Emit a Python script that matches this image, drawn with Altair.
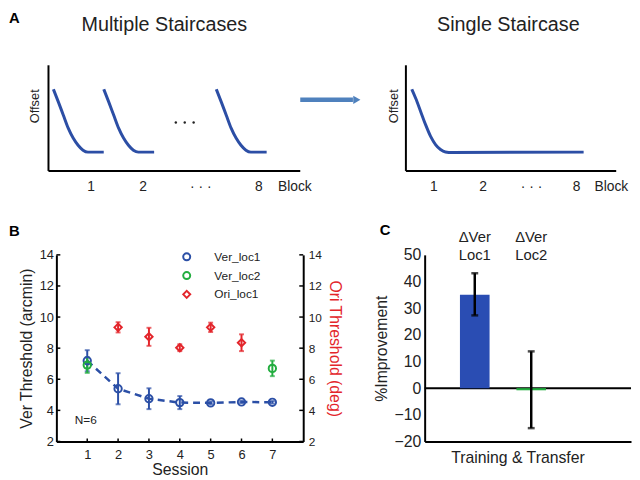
import altair as alt
import pandas as pd

FONT = "Liberation Sans"
CURVE_BLUE = "#2c4ea5"
ARROW_BLUE = "#4f81bd"
BLUE = "#2b4fa6"
BAR_BLUE = "#2a4db3"
GREEN = "#22ad3f"
RED = "#e3252b"

# ---------------- Panel A (schematic staircases) ----------------
multi_dx = [0, 0.101, 0.202, 0.304, 0.405, 0.506, 0.607, 0.709, 1.032]
multi_y = [0.773, 0.654, 0.530, 0.405, 0.311, 0.243, 0.196, 0.178, 0.178]
multi_starts = [-0.061, 0.972, 3.279]
dots_x = [2.449, 2.632, 2.814]
dots_y = [0.458, 0.458, 0.458]
single_x = [0.121, 0.202, 0.303, 0.404, 0.505, 0.606, 0.707, 0.808, 0.943, 3.634]
single_y = [0.773, 0.685, 0.561, 0.436, 0.327, 0.250, 0.203, 0.180, 0.175, 0.178]
a_tick_labels = ["1", "2", "· · ·", "8", "Block"]
a_left_tick_x = [0.71, 1.78, 2.96, 4.15, 4.89]
a_right_tick_x = [0.57, 1.58, 2.57, 3.49, 4.20]

# ---------------- Panel B ----------------
sessions = [1, 2, 3, 4, 5, 6, 7]
ver1_mean = [7.19, 5.39, 4.75, 4.50, 4.48, 4.54, 4.52]
ver1_err = [0.68, 1.00, 0.67, 0.42, 0.08, 0.07, 0.08]
ver2_sessions = [1, 7]
ver2_mean = [6.91, 6.70]
ver2_err = [0.50, 0.50]
ori_sessions = [2, 3, 4, 5, 6]
ori_mean = [9.34, 8.73, 8.03, 9.34, 8.35]
ori_err = [0.33, 0.58, 0.22, 0.30, 0.54]
b_yticks = [2, 4, 6, 8, 10, 12, 14]
series_names = ["Ver_loc1", "Ver_loc2", "Ori_loc1"]

# ---------------- Panel C ----------------
c_pos = [1, 2]
c_names = ["Loc1", "Loc2"]
c_mean = [35.0, -0.8]
c_lo = [27.3, -15.0]
c_hi = [43.1, 13.8]
c_yticks = [-20, -10, 0, 10, 20, 30, 40, 50]


def qx(f, sc):
    return alt.X(f, type="quantitative", scale=sc, axis=None)


def qy(f, sc):
    return alt.Y(f, type="quantitative", scale=sc, axis=None)


# ---------- Panel A ----------
AH = 107
yA = alt.Scale(domain=[0, 1], nice=False, zero=False)


def a_panel(curve_df, axis_x0, axis_x1, xs, tick_x, title, title_x, offset_x, extra=None):
    base = alt.Chart(curve_df)
    curve = base.mark_line(color=CURVE_BLUE, strokeWidth=3, interpolate="monotone").encode(
        x=qx("x", xs), y=qy("y", yA), detail="block:N")
    axes_df = pd.DataFrame({"x": [axis_x0, axis_x0], "x2": [axis_x0, axis_x1],
                            "y": [0, 0], "y2": [1, 0]})
    axes = alt.Chart(axes_df).mark_rule(color="black", strokeWidth=2).encode(
        x=qx("x", xs), x2="x2", y=qy("y", yA), y2="y2")
    ticks_df = pd.DataFrame({"x": tick_x, "y": [-0.15] * len(tick_x), "t": a_tick_labels})
    ticks = alt.Chart(ticks_df).mark_text(fontSize=14, baseline="middle", color="#222").encode(
        x=qx("x", xs), y=qy("y", yA), text="t:N")
    ttl = alt.Chart(pd.DataFrame({"x": [title_x], "y": [1.327], "t": [title]})).mark_text(
        fontSize=20, baseline="alphabetic", color="#222").encode(x=qx("x", xs), y=qy("y", yA), text="t:N")
    off = alt.Chart(pd.DataFrame({"x": [offset_x], "y": [0.612], "t": ["Offset"]})).mark_text(
        fontSize=13, angle=270, baseline="middle", color="#222").encode(x=qx("x", xs), y=qy("y", yA), text="t:N")
    layers = [axes, curve, ticks, ttl, off]
    if extra:
        layers += extra
    return layers


xAL = alt.Scale(domain=[0, 5], nice=False, zero=False)
multi_df = pd.DataFrame([{"x": s + dx, "y": y, "block": i}
                         for i, s in enumerate(multi_starts)
                         for dx, y in zip(multi_dx, multi_y)])
dots = alt.Chart(pd.DataFrame({"x": dots_x, "y": dots_y})).mark_point(
    filled=True, size=6, color="#222", opacity=1).encode(x=qx("x", xAL), y=qy("y", yA))
arrow = alt.Chart(pd.DataFrame({"x": [5.0, 6.08], "y": [0.673, 0.673]})).mark_line(
    color=ARROW_BLUE, strokeWidth=4.5).encode(x=qx("x", xAL), y=qy("y", yA))
arrow_head = alt.Chart(pd.DataFrame({"x": [6.16], "y": [0.673]})).mark_point(
    shape="triangle-right", filled=True, size=70, color=ARROW_BLUE, opacity=1).encode(
    x=qx("x", xAL), y=qy("y", yA))
letterA = alt.Chart(pd.DataFrame({"x": [-0.972], "y": [1.514], "t": ["A"]})).mark_text(
    fontSize=15, fontWeight="bold", align="left", baseline="top", color="black").encode(
    x=qx("x", xAL), y=qy("y", yA), text="t:N")

a_left = alt.layer(*a_panel(multi_df, -0.162, 5.0, xAL, a_left_tick_x, "Multiple Staircases",
                            2.213, -0.445, [dots, arrow, arrow_head, letterA])).properties(width=247, height=AH)

xAR = alt.Scale(domain=[0, 4.3], nice=False, zero=False)
single_df = pd.DataFrame({"x": single_x, "y": single_y, "block": [0] * len(single_x)})
a_right = alt.layer(*a_panel(single_df, 0.0, 4.3, xAR, a_right_tick_x, "Single Staircase",
                             2.094, -0.252)).properties(width=213, height=AH)

row1 = alt.hconcat(a_left, a_right, spacing=107, bounds="flush")

# ---------- Panel B ----------
BW, BH = 250, 189
xB = alt.Scale(domain=[0, 8], nice=False, zero=False)
yBL = alt.Scale(domain=[2, 14], nice=False, zero=False)
yBR = alt.Scale(domain=[2, 14], nice=False, zero=False)

axBx = alt.Axis(values=sessions, title="Session", labelFontSize=13, labelPadding=7,
                titleFontSize=16, titlePadding=0, ticks=False, tickSize=0, domainWidth=2,
                labelAngle=0, format="d", grid=False)
axBL = alt.Axis(values=b_yticks, title="Ver Threshold (arcmin)", labelFontSize=13, labelPadding=3,
                titleFontSize=16, titlePadding=5, ticks=False, tickSize=0, domainWidth=2, grid=False)
axBR = alt.Axis(orient="right", values=b_yticks, title="Ori Threshold (deg)", titleColor=RED,
                labelFontSize=12, labelPadding=5, titleFontSize=16, titlePadding=5,
                ticks=False, tickSize=0, domainWidth=2, grid=False)

leg = alt.Legend(orient="none", legendX=126, legendY=-4, title=None, labelFontSize=12,
                 symbolSize=50, symbolStrokeWidth=2, rowPadding=3, labelOffset=22, padding=0,
                 symbolFillColor="white", labelFontWeight="normal")
color_enc = alt.Color("series:N", scale=alt.Scale(domain=series_names, range=[BLUE, GREEN, RED]), legend=leg)
shape_enc = alt.Shape("series:N", scale=alt.Scale(domain=series_names, range=["circle", "circle", "diamond"]), legend=leg)

ver1_df = pd.DataFrame({"s": sessions, "m": ver1_mean,
                        "lo": [m - e for m, e in zip(ver1_mean, ver1_err)],
                        "hi": [m + e for m, e in zip(ver1_mean, ver1_err)],
                        "series": "Ver_loc1"})
ver2_df = pd.DataFrame({"s": ver2_sessions, "m": ver2_mean,
                        "lo": [m - e for m, e in zip(ver2_mean, ver2_err)],
                        "hi": [m + e for m, e in zip(ver2_mean, ver2_err)],
                        "series": "Ver_loc2"})
ori_df = pd.DataFrame({"s": ori_sessions, "m": ori_mean,
                       "lo": [m - e for m, e in zip(ori_mean, ori_err)],
                       "hi": [m + e for m, e in zip(ori_mean, ori_err)],
                       "series": "Ori_loc1"})
ver_pts = pd.concat([ver1_df, ver2_df], ignore_index=True)

XB = alt.X("s:Q", scale=xB, axis=axBx)

b_line = alt.Chart(ver1_df).mark_line(color=BLUE, strokeWidth=2.5, strokeDash=[7, 5]).encode(
    x=XB, y=alt.Y("m:Q", scale=yBL, axis=axBL))
b_err1 = alt.Chart(ver1_df).mark_errorbar(ticks=True, size=5, thickness=2, color=BLUE).encode(
    x=XB, y=alt.Y("lo:Q", scale=yBL, axis=axBL, title="Ver Threshold (arcmin)"), y2="hi:Q")
b_err2 = alt.Chart(ver2_df).mark_errorbar(ticks=True, size=5, thickness=2, color=GREEN).encode(
    x=XB, y=alt.Y("lo:Q", scale=yBL, axis=axBL, title="Ver Threshold (arcmin)"), y2="hi:Q")
b_pts = alt.Chart(ver_pts).mark_point(filled=False, size=55, strokeWidth=2, opacity=1).encode(
    x=XB, y=alt.Y("m:Q", scale=yBL, axis=axBL), color=color_enc, shape=shape_enc)
b_lticks = alt.Chart(pd.DataFrame({"v": b_yticks})).mark_rule(color="black", strokeWidth=1.5).encode(
    y=alt.Y("v:Q", scale=yBL, axis=axBL), x=alt.value(0), x2=alt.value(4))
b_xticks = alt.Chart(pd.DataFrame({"s": sessions})).mark_rule(color="black", strokeWidth=1.5).encode(
    x=XB, y=alt.value(BH - 3), y2=alt.value(BH))
b_n = alt.Chart(pd.DataFrame({"s": [0.95], "v": [3.4], "t": ["N=6"]})).mark_text(
    fontSize=12, baseline="middle", color="#222").encode(
    x=XB, y=alt.Y("v:Q", scale=yBL, axis=axBL), text="t:N")
letterB = alt.Chart(pd.DataFrame({"s": [-1.536], "v": [16.0], "t": ["B"]})).mark_text(
    fontSize=15, fontWeight="bold", align="left", baseline="top", color="black").encode(
    x=XB, y=alt.Y("v:Q", scale=yBL, axis=axBL), text="t:N")

left_group = alt.layer(b_lticks, b_xticks, b_line, b_err1, b_err2, b_pts, b_n, letterB)

b_err3 = alt.Chart(ori_df).mark_errorbar(ticks=True, size=5, thickness=2, color=RED).encode(
    x=XB, y=alt.Y("lo:Q", scale=yBR, axis=axBR, title="Ori Threshold (deg)"), y2="hi:Q")
b_pts3 = alt.Chart(ori_df).mark_point(filled=False, size=55, strokeWidth=2, opacity=1).encode(
    x=XB, y=alt.Y("m:Q", scale=yBR, axis=axBR), color=color_enc, shape=shape_enc)
b_rticks = alt.Chart(pd.DataFrame({"v": b_yticks})).mark_rule(color="black", strokeWidth=1.5).encode(
    y=alt.Y("v:Q", scale=yBR, axis=axBR), x=alt.value(BW - 4), x2=alt.value(BW))
right_group = alt.layer(b_rticks, b_err3, b_pts3)

panel_b = alt.layer(left_group, right_group).resolve_scale(y="independent").properties(width=BW, height=BH)

# ---------- Panel C ----------
CW, CH = 209, 189
xC = alt.Scale(domain=[0.2, 3.68], nice=False, zero=False)
yC = alt.Scale(domain=[-20, 50], nice=False, zero=False)
axCx = alt.Axis(labels=False, ticks=False, tickSize=0, title=None, domainWidth=2, grid=False)
axCy = alt.Axis(values=c_yticks, title="%Improvement", labelFontSize=16, labelPadding=4,
                titleFontSize=16, titlePadding=5, ticks=False, tickSize=0, domainWidth=2, grid=False)
XC = alt.X("x:Q", scale=xC, axis=axCx)

c_df = pd.DataFrame({"x": c_pos, "name": c_names, "m": c_mean, "lo": c_lo, "hi": c_hi, "zero": [0, 0]})
c_zero = alt.Chart(pd.DataFrame({"v": [0]})).mark_rule(color="black", strokeWidth=2).encode(
    y=alt.Y("v:Q", scale=yC, axis=axCy))
c_bar1 = alt.Chart(c_df.iloc[[0]]).mark_bar(size=30, color=BAR_BLUE).encode(
    x=XC, y=alt.Y("m:Q", scale=yC, axis=axCy), y2="zero:Q")
c_bar2 = alt.Chart(c_df.iloc[[1]]).mark_bar(size=30, color=GREEN).encode(
    x=XC, y=alt.Y("m:Q", scale=yC, axis=axCy), y2="zero:Q")
c_err = alt.Chart(c_df).mark_errorbar(ticks=True, size=7, thickness=2.5, color="black").encode(
    x=XC, y=alt.Y("lo:Q", scale=yC, axis=axCy, title="%Improvement"), y2="hi:Q")
c_lab_df = pd.DataFrame({"x": [1, 1, 2, 2], "v": [56.67, 50.0, 56.67, 50.0],
                         "t": ["ΔVer", "Loc1", "ΔVer", "Loc2"]})
c_labels = alt.Chart(c_lab_df).mark_text(fontSize=15, baseline="middle", color="#222").encode(
    x=XC, y=alt.Y("v:Q", scale=yC, axis=axCy), text="t:N")
c_xt = alt.Chart(pd.DataFrame({"x": [1.765], "v": [-26.3], "t": ["Training & Transfer"]})).mark_text(
    fontSize=16, baseline="middle", color="#222").encode(
    x=XC, y=alt.Y("v:Q", scale=yC, axis=axCy), text="t:N")
letterC = alt.Chart(pd.DataFrame({"x": [-0.682], "v": [61.85], "t": ["C"]})).mark_text(
    fontSize=15, fontWeight="bold", align="left", baseline="top", color="black").encode(
    x=XC, y=alt.Y("v:Q", scale=yC, axis=axCy), text="t:N")

panel_c = alt.layer(c_zero, c_bar1, c_bar2, c_err, c_labels, c_xt, letterC).properties(width=CW, height=CH)

row2 = alt.hconcat(panel_b, panel_c, spacing=123, bounds="flush").resolve_scale(
    color="independent", shape="independent")

chart = (
    alt.vconcat(row1, row2, spacing=29)
    .resolve_scale(color="independent", shape="independent")
    .properties(padding=0, background="white")
    .configure(font=FONT)
    .configure_view(stroke=None)
    .configure_axis(grid=False, labelFont=FONT, titleFont=FONT, labelColor="#222",
                    titleColor="#222", domainColor="black", titleFontWeight="normal")
    .configure_legend(labelFont=FONT, labelColor="#222")
)

chart.save("out.html", embed_options={"renderer": "svg", "actions": False})
